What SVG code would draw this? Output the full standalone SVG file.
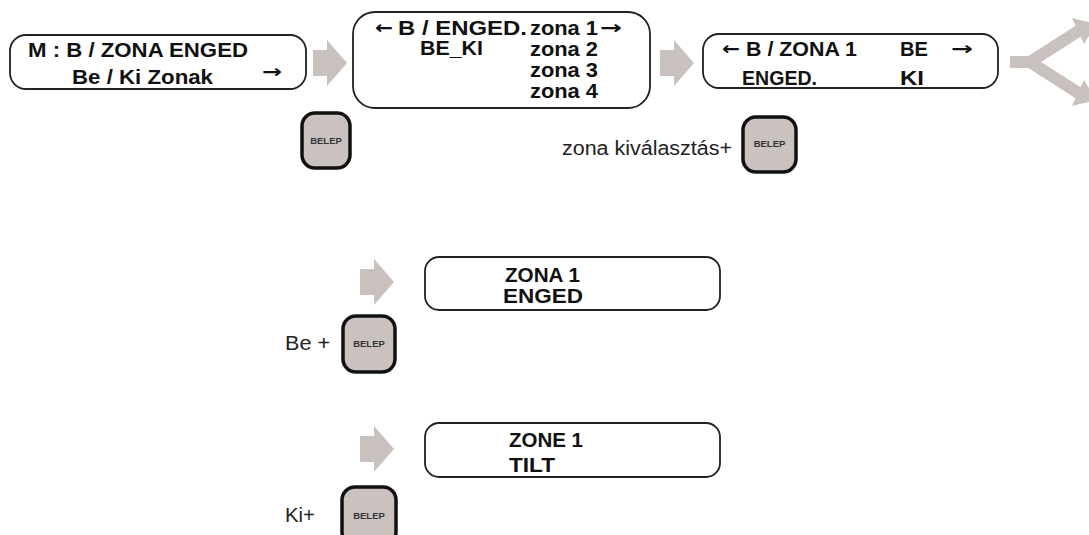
<svg xmlns="http://www.w3.org/2000/svg" width="1089" height="535" viewBox="0 0 1089 535">
<style>
.box{fill:#fff;stroke:#222;stroke-width:1.8}
.btn{fill:#c9c2bf;stroke:#111;stroke-width:3.5}
.bt{font-family:"Liberation Sans",Arial,sans-serif;font-weight:bold;font-size:9.5px;fill:#333;text-anchor:middle}
.t{font-family:"Liberation Sans",Arial,"DejaVu Sans",sans-serif;font-weight:bold;font-size:20px;fill:#111}
.a{font-family:"DejaVu Sans",sans-serif;font-weight:bold;font-size:18px;fill:#111}
.r{font-family:"Liberation Sans",Arial,sans-serif;font-size:20px;fill:#222}
.ga{fill:#c8c1bd}
</style>
<defs>
<path id="garrow" d="M0,-13 H14 V-23 L34,0 L14,23 V13 H0 Z"/>
</defs>
<g id="connectors" class="ga">
<use href="#garrow" x="313" y="63"/>
<use href="#garrow" x="660" y="63"/>
<use href="#garrow" x="360" y="282"/>
<use href="#garrow" x="360" y="449"/>
<g id="fork">
<rect x="1010" y="56" width="24" height="12"/>
<line x1="1030" y1="62" x2="1080" y2="30" stroke="#c8c1bd" stroke-width="12"/>
<line x1="1030" y1="62" x2="1080" y2="94" stroke="#c8c1bd" stroke-width="12"/>
<polygon points="1072,18 1096,24 1084,44"/>
<polygon points="1072,106 1096,100 1084,80"/>
</g>
</g>
<g id="node1">
<rect class="box" x="10" y="35" width="296" height="54" rx="16"/>
<text class="t" x="28" y="57" textLength="220" lengthAdjust="spacingAndGlyphs">M : B / ZONA ENGED</text>
<text class="t" x="72" y="84" textLength="141" lengthAdjust="spacingAndGlyphs">Be / Ki Zonak</text>
<text class="a" x="262" y="78" textLength="20" lengthAdjust="spacingAndGlyphs">→</text>
</g>
<g id="node2">
<rect class="box" x="353" y="12" width="297" height="96" rx="22"/>
<text class="a" x="375" y="34" textLength="18" lengthAdjust="spacingAndGlyphs">←</text>
<text class="t" x="398" y="35" textLength="129" lengthAdjust="spacingAndGlyphs">B / ENGED.</text>
<text class="t" x="530" y="35" textLength="68" lengthAdjust="spacingAndGlyphs">zona 1</text>
<text class="a" x="600" y="34" textLength="22" lengthAdjust="spacingAndGlyphs">→</text>
<text class="t" x="420" y="55" textLength="63" lengthAdjust="spacingAndGlyphs">BE_KI</text>
<text class="t" x="530" y="56" textLength="68" lengthAdjust="spacingAndGlyphs">zona 2</text>
<text class="t" x="530" y="77" textLength="68" lengthAdjust="spacingAndGlyphs">zona 3</text>
<text class="t" x="530" y="98" textLength="68" lengthAdjust="spacingAndGlyphs">zona 4</text>
</g>
<g id="node3">
<rect class="box" x="703" y="34" width="295" height="54" rx="16"/>
<text class="a" x="722" y="55" textLength="18" lengthAdjust="spacingAndGlyphs">←</text>
<text class="t" x="746" y="56" textLength="111" lengthAdjust="spacingAndGlyphs">B / ZONA 1</text>
<text class="t" x="900" y="56" textLength="28" lengthAdjust="spacingAndGlyphs">BE</text>
<text class="a" x="951" y="55" textLength="22" lengthAdjust="spacingAndGlyphs">→</text>
<text class="t" x="742" y="85" textLength="75" lengthAdjust="spacingAndGlyphs">ENGED.</text>
<text class="t" x="900" y="85" textLength="24" lengthAdjust="spacingAndGlyphs">KI</text>
</g>
<g id="node4">
<rect class="box" x="425" y="257" width="295" height="53" rx="14"/>
<text class="t" x="505" y="282" textLength="75" lengthAdjust="spacingAndGlyphs">ZONA 1</text>
<text class="t" x="503" y="303" textLength="80" lengthAdjust="spacingAndGlyphs">ENGED</text>
</g>
<g id="node5">
<rect class="box" x="425" y="423" width="295" height="54" rx="14"/>
<text class="t" x="509" y="447" textLength="74" lengthAdjust="spacingAndGlyphs">ZONE 1</text>
<text class="t" x="509" y="472" textLength="46" lengthAdjust="spacingAndGlyphs">TILT</text>
</g>
<g id="button1">
<rect class="btn" x="302" y="113" width="48" height="55" rx="13"/>
<text class="bt" x="326" y="144">BELEP</text>
</g>
<g id="button2">
<text class="r" x="562" y="155" textLength="170" lengthAdjust="spacingAndGlyphs">zona kiválasztás+</text>
<rect class="btn" x="743" y="117" width="53" height="55" rx="13"/>
<text class="bt" x="769.5" y="147">BELEP</text>
</g>
<g id="button3">
<text class="r" x="285" y="350" textLength="45" lengthAdjust="spacingAndGlyphs">Be +</text>
<rect class="btn" x="343" y="316" width="52" height="56" rx="13"/>
<text class="bt" x="369" y="347">BELEP</text>
</g>
<g id="button4">
<text class="r" x="285" y="522" textLength="30" lengthAdjust="spacingAndGlyphs">Ki+</text>
<rect class="btn" x="342" y="487" width="54" height="58" rx="13"/>
<text class="bt" x="369" y="519">BELEP</text>
</g>
</svg>
